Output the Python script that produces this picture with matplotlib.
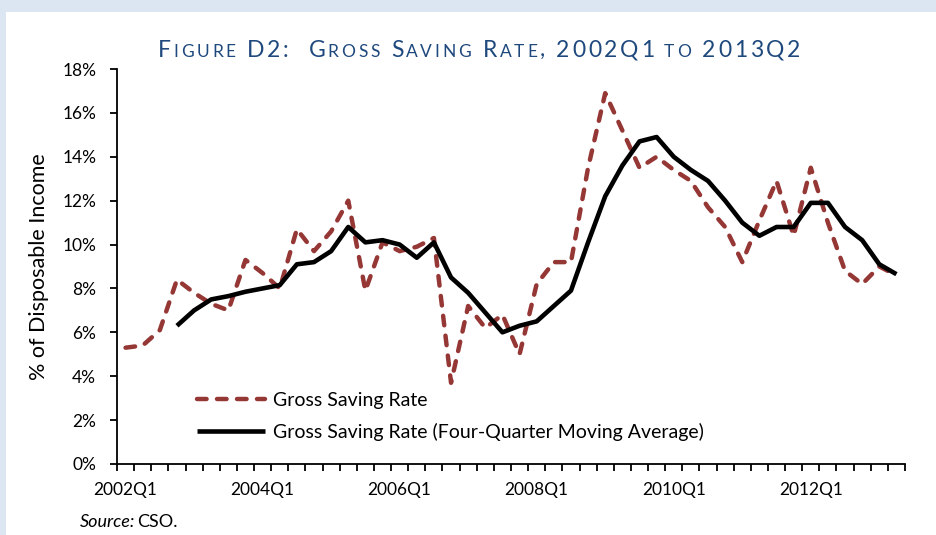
import matplotlib
matplotlib.use('Agg')
import matplotlib.pyplot as plt
from matplotlib.patches import Rectangle
import numpy as np

plt.rcParams['font.family'] = ['Lato', 'DejaVu Sans']
plt.rcParams['lines.scale_dashes'] = False

# ---- data ----
quarters = [f"{y}Q{q}" for y in range(2002, 2014) for q in range(1, 5)][:46]
tick_labels = ["2002Q1", "2004Q1", "2006Q1", "2008Q1", "2010Q1", "2012Q1"]
gross_saving = [5.3, 5.4, 6.1, 8.4, 7.8, 7.3, 7.0, 9.3, 8.7, 8.0,
                10.7, 9.7, 10.6, 12.0, 7.9, 10.1, 9.7, 9.9, 10.3, 3.7,
                7.2, 6.2, 6.8, 5.0, 8.2, 9.2, 9.2, 13.5, 16.9, 15.2,
                13.5, 14.0, 13.4, 12.9, 11.7, 10.8, 9.2, 11.1, 12.9, 10.4,
                13.5, 11.0, 8.8, 8.2, 9.0, 8.6]
moving_avg = [np.nan, np.nan, np.nan, 6.3, 7.0, 7.5, 7.65, 7.85, 8.0, 8.15,
              9.1, 9.2, 9.7, 10.8, 10.1, 10.2, 10.0, 9.4, 10.1, 8.5,
              7.8, 6.9, 6.0, 6.3, 6.5, 7.2, 7.9, 10.1, 12.2, 13.6,
              14.7, 14.9, 14.0, 13.4, 12.9, 12.0, 11.0, 10.4, 10.8, 10.8,
              11.9, 11.9, 10.8, 10.2, 9.1, 8.65]
y_ticks = [0, 2, 4, 6, 8, 10, 12, 14, 16, 18]

W, H = 937, 535
fig = plt.figure(figsize=(W / 100, H / 100), dpi=100)
fig.patch.set_facecolor('white')
band = '#DCE6F2'
fig.patches.append(Rectangle((0, 1 - 12 / H), 1, 12 / H, transform=fig.transFigure,
                             facecolor=band, edgecolor='none', zorder=0))
fig.patches.append(Rectangle((0, 0), 6 / W, 1, transform=fig.transFigure,
                             facecolor=band, edgecolor='none', zorder=0))

ax = fig.add_axes([117 / W, 1 - 464 / H, (905 - 117) / W, (464 - 69) / H])
x = np.arange(len(quarters))
ax.plot(x, gross_saving, color='#953735', lw=3.2, dashes=(6.9, 7.5),
        dash_capstyle='round', dash_joinstyle='round', label='Gross Saving Rate')
ax.plot(x, moving_avg, color='black', lw=3.3, solid_joinstyle='round',
        solid_capstyle='butt', label='Gross Saving Rate (Four-Quarter Moving Average)')

ax.set_xlim(-0.5, len(quarters) - 0.5)
ax.set_ylim(0, 18)
ax.set_yticks(y_ticks)
ax.set_yticklabels([f"{v}%" for v in y_ticks])
for s in ['top', 'right']:
    ax.spines[s].set_visible(False)
for s in ['left', 'bottom']:
    ax.spines[s].set_linewidth(1.3)
ax.tick_params(axis='y', direction='out', length=5, width=1.3, labelsize=12.5, pad=10)
ax.set_xticks(np.arange(-0.5, len(quarters), 1))
ax.set_xticklabels([])
ax.tick_params(axis='x', which='major', direction='out', length=5, width=1.3)
ax.set_xticks([quarters.index(t) for t in tick_labels], minor=True)
ax.set_xticklabels(tick_labels, minor=True)
ax.tick_params(axis='x', which='minor', length=0, labelsize=12.5, pad=13)

ax.set_ylabel('% of Disposable Income', fontsize=15.5)
ax.yaxis.set_label_coords((49 - 117) / 788, 0.5)

leg = ax.legend(loc='upper left', bbox_to_anchor=(197 / W, 1 - 392 / H),
                bbox_transform=fig.transFigure, frameon=False, fontsize=14,
                handlelength=3.5, handletextpad=0.4, labelspacing=0.7,
                borderpad=0, borderaxespad=0)

# ---- small-caps title with letter spacing ----
title_color = '#1F497D'
big, small = 16.5, 12.5
pieces = [("F", big), ("IGURE", small), (" D2:  G", big), ("ROSS", small),
          (" S", big), ("AVING", small), (" R", big), ("ATE", small),
          (", 2002Q1", big), (" TO", small), (" 2013Q2", big)]
renderer = fig.canvas.get_renderer()
chars = []
for s, fs in pieces:
    for ch in s:
        chars.append((ch, fs))


def char_width(ch, fs):
    if ch == ' ':
        t1 = fig.text(0, 0, "a a", fontsize=fs)
        t2 = fig.text(0, 0, "aa", fontsize=fs)
        w = t1.get_window_extent(renderer).width - t2.get_window_extent(renderer).width
        t1.remove(); t2.remove()
        return w
    t = fig.text(0, 0, ch, fontsize=fs)
    w = t.get_window_extent(renderer).width
    t.remove()
    return w


widths = [char_width(c, f) for c, f in chars]
target = 800 - 158
track = (target - sum(widths)) / (len(chars) - 1)
xp = 158.0
for (c, f), w in zip(chars, widths):
    if c != ' ':
        fig.text(xp / W, 1 - 57 / H, c, fontsize=f, color=title_color,
                 ha='left', va='baseline')
    xp += w + track

src = fig.text(80 / W, 1 - 522 / H, "Source:", fontsize=13, style='italic',
               ha='left', va='center')
sw = src.get_window_extent(renderer).width
fig.text((80 + sw + 1.5) / W, 1 - 522 / H, "CSO.", fontsize=13, ha='left', va='center')

fig.savefig('out.png', dpi=100, facecolor=fig.get_facecolor())
